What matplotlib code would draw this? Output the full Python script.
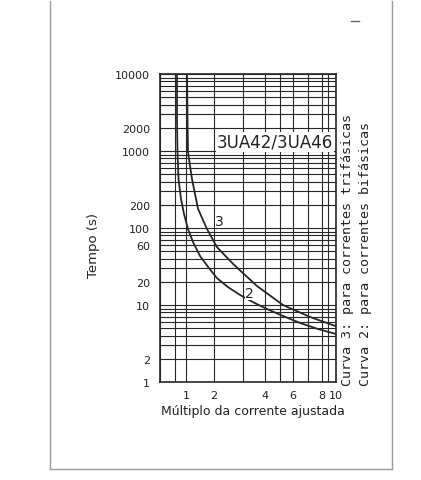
import numpy as np
import matplotlib
matplotlib.use("Agg")
import matplotlib.pyplot as plt
from matplotlib.lines import Line2D

# x grid values of the chart (hand drawn, not a clean log scale)
x_grid = [0.5, 0.8, 1, 2, 3, 4, 5, 6, 7, 8, 9, 10]
x_labels = [1, 2, 4, 6, 8, 10]
y_labels = [1, 2, 10, 20, 60, 100, 200, 1000, 2000, 10000]

# curve 3 (trifasicas) and curve 2 (bifasicas)
c3_x = [1.036, 1.054, 1.071, 1.214, 1.43, 1.75, 2.10, 2.66, 3.64, 5.23, 7.14, 10]
c3_t = [10000, 2606, 970, 433, 177, 97, 56.6, 34.1, 17.6, 10.0, 7.0, 5.3]
c2_x = [0.836, 0.836, 0.845, 0.864, 0.909, 0.964, 1.071, 1.25, 1.5, 1.79,
        2.10, 2.48, 2.90, 3.45, 4.13, 5.23, 6.47, 7.71, 10]
c2_t = [10000, 2606, 970, 433, 238, 152, 97, 65.8, 43.3, 31.2,
        22.4, 17.1, 13.5, 10.9, 8.87, 7.2, 5.84, 4.88, 4.2]

# where each grid value sits along the axis (pixels in the scan)
x_pix = [160, 175, 186, 214, 243, 265, 280, 293, 308, 322, 328, 336]


def fwd(x):
    return np.interp(x, x_grid, x_pix)


def inv(p):
    return np.interp(p, x_pix, x_grid)


W, H = 421, 481
fig = plt.figure(figsize=(W / 100, H / 100), dpi=100)
ax = fig.add_axes([160 / W, 1 - 383 / H, 176 / W, 308 / H])

ax.set_xscale("function", functions=(fwd, inv))
ax.set_yscale("log")
ax.set_xlim(0.5, 10)
ax.set_ylim(1, 10000)

lc = "#262626"
ax.plot(c3_x, c3_t, color=lc, lw=1.3)
ax.plot(c2_x, c2_t, color=lc, lw=1.3)

ax.set_xticks(x_labels)
ax.set_xticklabels([str(v) for v in x_labels])
ax.set_xticks(x_grid, minor=True)
ax.set_yticks(y_labels)
ax.set_yticklabels([str(v) for v in y_labels])
ax.set_yticks([m * 10 ** d for d in range(4) for m in range(1, 10)], minor=True)

ax.grid(True, which="both", color=lc, lw=0.8)
ax.tick_params(which="both", length=0, labelsize=8, colors="#222")
ax.tick_params(axis="x", pad=6)
ax.tick_params(axis="y", pad=7)
for s in ax.spines.values():
    s.set_color(lc)
    s.set_linewidth(1.2)

ax.text(2.1, 1309, "3UA42/3UA46", fontsize=12, color="#222",
        ha="left", va="center",
        bbox=dict(facecolor="white", edgecolor="none", pad=1))
ax.text(2.2, 125, "3", fontsize=10, color="#222", ha="center", va="center",
        bbox=dict(facecolor="white", edgecolor="none", pad=0.5))
ax.text(3.3, 14.5, "2", fontsize=10, color="#222", ha="center", va="center",
        bbox=dict(facecolor="white", edgecolor="none", pad=0.5))

fig.text(93 / W, 1 - 245 / H, "Tempo (s)", rotation=90, fontsize=9.5,
         color="#222", ha="center", va="center")
fig.text(253 / W, 1 - 412 / H, "Múltiplo da corrente ajustada", fontsize=9,
         color="#222", ha="center", va="center")
fig.text(347 / W, 1 - 386 / H, "Curva 3: para correntes trifásicas",
         rotation=90, fontsize=9.6, family="DejaVu Sans Mono", color="#222",
         ha="center", va="bottom")
fig.text(365 / W, 1 - 386 / H, "Curva 2: para correntes bifásicas",
         rotation=90, fontsize=9.6, family="DejaVu Sans Mono", color="#222",
         ha="center", va="bottom")

# page frame of the scan
fc = "#9a9a9a"
fig.add_artist(Line2D([50 / W, 50 / W], [1 - 2 / H, 1 - 470 / H], color=fc, lw=1))
fig.add_artist(Line2D([50 / W, 392 / W], [1 - 470 / H, 1 - 470 / H], color=fc, lw=1))
fig.add_artist(Line2D([392 / W, 392 / W], [1 - 2 / H, 1 - 470 / H], color=fc, lw=1))
fig.add_artist(Line2D([351 / W, 359 / W], [1 - 22 / H, 1 - 22 / H], color="#666", lw=1))

fig.savefig("out.png", dpi=100)
